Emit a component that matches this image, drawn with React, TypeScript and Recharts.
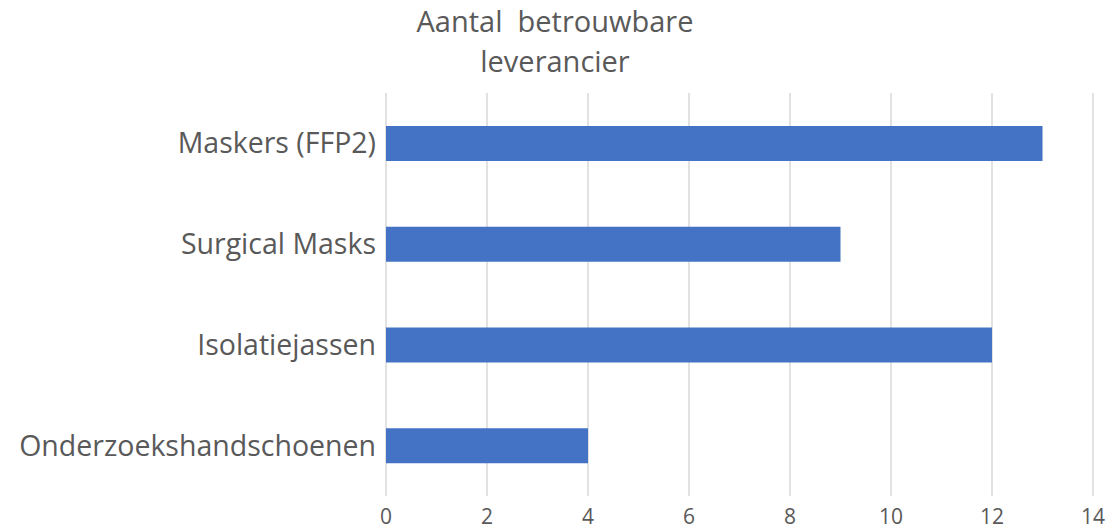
import React from "react";
import { BarChart, Bar, XAxis, YAxis, CartesianGrid } from "recharts";

const categories = ["Maskers (FFP2)", "Surgical Masks", "Isolatiejassen", "Onderzoekshandschoenen"];
const values = [13, 9, 12, 4];
const xTicks = [0, 2, 4, 6, 8, 10, 12, 14];
const titleLines = ["Aantal\u00a0 betrouwbare", "leverancier"];

const data = categories.map((c, i) => ({ name: c, value: values[i] }));

const FONT = "Open Sans, Noto Sans, sans-serif";
const TEXT = "#595959";

export default function App() {
  return (
    <div style={{ position: "absolute", left: 0, top: 0, width: 1107, height: 532, background: "#fff", overflow: "hidden" }}>
      <div
        style={{
          position: "absolute",
          left: 355,
          width: 400,
          top: 1,
          textAlign: "center",
          fontFamily: FONT,
          fontSize: 29,
          lineHeight: "40px",
          color: TEXT,
        }}
      >
        {titleLines.map((l, i) => (
          <div key={i}>{l}</div>
        ))}
      </div>
      <BarChart
        width={1107}
        height={532}
        data={data}
        layout="vertical"
        margin={{ top: 93, right: 14, bottom: 0, left: 0 }}
        barSize={35}
      >
        <CartesianGrid horizontal={false} stroke="#d9d9d9" strokeWidth={1.5} />
        <XAxis
          type="number"
          domain={[0, 14]}
          ticks={xTicks}
          axisLine={false}
          tickLine={false}
          height={36}
          tickMargin={7}
          tick={{ fill: TEXT, fontSize: 21, fontFamily: FONT }}
          interval={0}
        />
        <YAxis
          type="category"
          dataKey="name"
          width={386}
          axisLine={false}
          tickLine={false}
          tickMargin={4}
          tick={{ fill: TEXT, fontSize: 28.5, fontFamily: FONT }}
        />
        <Bar dataKey="value" fill="#4472c4" isAnimationActive={false} />
      </BarChart>
    </div>
  );
}
